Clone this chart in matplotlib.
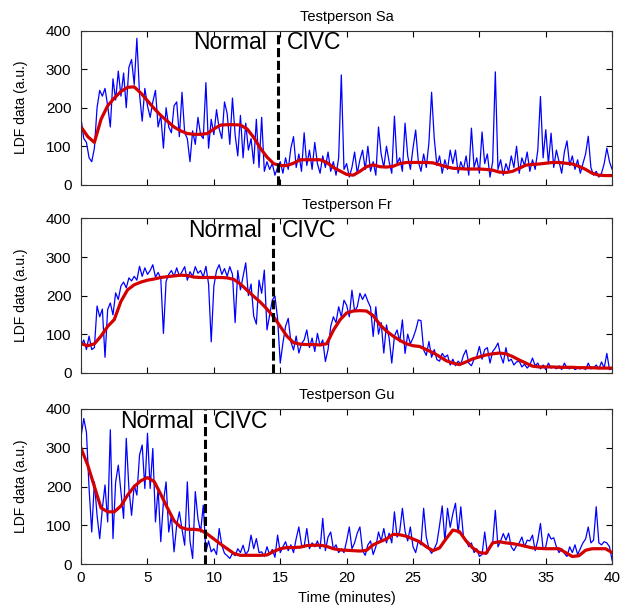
"""LDF data of three test persons, normal breathing vs. CIVC"""
import numpy as np
from matplotlib import pyplot as plt

# raw LDF signal (a.u.), one sample every 0.2 minutes from 0 to 40
sa_ldf = [
    170, 120, 110, 70, 60, 95, 200, 245, 230, 250, 205, 150, 275, 220, 295, 230, 290, 200, 305, 325,
    260, 380, 235, 165, 250, 205, 175, 215, 245, 150, 180, 95, 200, 150, 135, 205, 215, 125, 240, 135,
    120, 60, 140, 105, 175, 130, 120, 265, 95, 170, 130, 195, 145, 120, 215, 185, 105, 225, 130, 75,
    180, 70, 160, 90, 120, 55, 170, 45, 175, 35, 60, 40, 55, 25, 45, 60, 30, 70, 40, 95,
    125, 45, 80, 35, 135, 50, 90, 40, 110, 55, 30, 75, 45, 85, 35, 60, 25, 70, 285, 40,
    55, 20, 45, 85, 30, 65, 90, 40, 100, 35, 60, 25, 150, 80, 45, 100, 60, 30, 178, 55,
    70, 35, 160, 75, 40, 95, 142, 60, 35, 80, 45, 110, 240, 120, 50, 75, 30, 65, 40, 90,
    55, 90, 30, 60, 40, 75, 25, 147, 45, 70, 30, 137, 55, 80, 20, 60, 293, 40, 65, 25,
    55, 35, 75, 45, 100, 30, 70, 50, 85, 35, 65, 40, 90, 229, 70, 143, 55, 134, 45, 90,
    60, 30, 85, 114, 50, 75, 40, 65, 30, 55, 80, 126, 45, 25, 35, 20, 30, 55, 95, 60,
    40,
]
fr_ldf = [
    70, 85, 60, 95, 60, 65, 173, 145, 165, 40, 164, 181, 150, 207, 190, 225, 235, 220, 246, 238,
    250, 240, 276, 250, 272, 255, 265, 280, 248, 260, 245, 102, 237, 255, 265, 250, 272, 250, 262, 275,
    240, 262, 250, 275, 258, 265, 248, 276, 230, 80, 225, 265, 280, 255, 270, 250, 275, 255, 130, 265,
    215, 250, 285, 200, 230, 147, 126, 240, 206, 266, 111, 150, 188, 199, 140, 25, 77, 120, 141, 80,
    59, 95, 51, 75, 85, 111, 65, 90, 55, 102, 70, 85, 29, 60, 120, 145, 130, 171, 145, 188,
    175, 145, 214, 160, 171, 206, 190, 204, 185, 170, 94, 171, 100, 130, 51, 124, 90, 25, 95, 111,
    80, 137, 50, 100, 75, 90, 110, 137, 135, 59, 45, 81, 40, 60, 34, 30, 50, 40, 46, 20,
    35, 18, 30, 22, 45, 59, 25, 18, 35, 42, 68, 35, 60, 65, 25, 55, 64, 77, 45, 25,
    65, 30, 35, 20, 28, 30, 15, 22, 12, 20, 38, 18, 25, 10, 20, 8, 25, 12, 15, 10,
    18, 8, 25, 12, 10, 15, 8, 12, 10, 14, 8, 25, 10, 12, 20, 10, 28, 12, 50, 8,
    10,
]
gu_ldf = [
    330, 375, 340, 195, 83, 212, 126, 66, 144, 204, 109, 346, 66, 212, 255, 187, 118, 324, 195, 126,
    204, 178, 281, 307, 195, 337, 195, 298, 109, 195, 58, 161, 212, 83, 126, 32, 101, 135, 90, 49,
    212, 60, 15, 187, 118, 83, 152, 32, 60, 32, 40, 25, 92, 49, 28, 22, 15, 28, 22, 40,
    30, 49, 25, 35, 75, 40, 66, 30, 32, 20, 45, 25, 38, 18, 75, 30, 45, 58, 35, 50,
    30, 66, 96, 50, 45, 92, 40, 55, 45, 60, 40, 118, 35, 70, 83, 40, 50, 30, 40, 30,
    60, 96, 40, 55, 80, 96, 35, 23, 50, 60, 25, 45, 83, 60, 92, 55, 80, 55, 135, 70,
    85, 144, 85, 60, 96, 45, 30, 60, 50, 144, 70, 40, 28, 40, 55, 100, 150, 60, 144, 95,
    130, 157, 80, 148, 70, 60, 45, 55, 30, 40, 20, 25, 83, 28, 45, 55, 139, 45, 60, 79,
    62, 80, 45, 35, 48, 55, 70, 45, 62, 60, 75, 35, 62, 105, 38, 45, 79, 65, 68, 45,
    30, 40, 28, 20, 45, 30, 50, 25, 40, 55, 65, 96, 55, 62, 148, 55, 50, 58, 55, 45,
    10,
]

# smoothed signal, one value every 0.5 minutes from 0 to 40
sa_smooth = [
    150, 125, 110, 170, 205, 225, 242, 253, 254, 238,
    218, 198, 180, 165, 150, 140, 133, 131, 131, 133,
    145, 155, 156, 156, 155, 145, 123, 95, 72, 55,
    50, 50, 56, 65, 65, 65, 65, 58, 45, 36,
    27, 25, 35, 47, 52, 47, 46, 48, 55, 58,
    58, 58, 58, 57, 52, 47, 43, 42, 41, 41,
    41, 40, 38, 33, 32, 35, 43, 51, 53, 54,
    56, 58, 58, 56, 54, 48, 40, 30, 25, 24,
    24,
]
fr_smooth = [
    75, 70, 75, 95, 120, 138, 185, 215, 228, 235,
    240, 243, 247, 249, 251, 253, 252, 248, 247, 247,
    247, 247, 246, 242, 230, 214, 198, 183, 165, 145,
    120, 95, 78, 74, 73, 73, 72, 75, 110, 137,
    155, 160, 161, 160, 148, 125, 108, 95, 84, 75,
    70, 68, 60, 52, 42, 31, 25, 21, 28, 36,
    41, 46, 49, 51, 49, 42, 33, 25, 17, 15,
    15, 15, 14, 14, 14, 13, 13, 13, 12, 12,
    12,
]
gu_smooth = [
    298, 255, 200, 145, 135, 135, 150, 178, 200, 215,
    223, 213, 180, 145, 112, 95, 90, 90, 88, 78,
    65, 52, 40, 28, 23, 23, 23, 23, 24, 33,
    40, 43, 43, 44, 48, 49, 49, 46, 40, 37,
    36, 35, 34, 36, 50, 58, 65, 77, 76, 72,
    65, 58, 45, 35, 42, 66, 88, 84, 60, 42,
    30, 28, 55, 58, 55, 53, 50, 46, 42, 41,
    40, 40, 40, 30, 20, 22, 36, 40, 40, 40,
    30,
]

persons = ["Sa", "Fr", "Gu"]
switch_times = [14.85, 14.45, 9.35]  # minute where CIVC starts
raw_series = [sa_ldf, fr_ldf, gu_ldf]
smooth_series = [sa_smooth, fr_smooth, gu_smooth]

plt.rcParams["font.family"] = ["Liberation Sans", "DejaVu Sans"]

fig = plt.figure(figsize=(6.24, 6.12), dpi=100)
positions = [
    [0.130, 0.698, 0.851, 0.252],
    [0.130, 0.391, 0.851, 0.252],
    [0.130, 0.078, 0.851, 0.254],
]

for i, person in enumerate(persons):
    ax = fig.add_axes(positions[i])
    raw = raw_series[i]
    smooth = smooth_series[i]
    t_raw = np.linspace(0, 40, len(raw))
    t_smooth = np.linspace(0, 40, len(smooth))

    ax.plot(t_raw, raw, color="#0000ff", linewidth=0.9)
    ax.plot(t_smooth, smooth, color="#d40000", linewidth=2.3)
    ax.axvline(switch_times[i], color="black", linewidth=2.2, linestyle=(0, (3, 1.2)))

    ax.text(switch_times[i] - 0.85, 368, "Normal", ha="right", va="center", fontsize=16.5)
    ax.text(switch_times[i] + 0.65, 368, "CIVC", ha="left", va="center", fontsize=16.5)

    ax.set_xlim(0, 40)
    ax.set_ylim(0, 400)
    ax.set_xticks([0, 5, 10, 15, 20, 25, 30, 35, 40])
    ax.set_yticks([0, 100, 200, 300, 400])
    ax.tick_params(direction="in", top=True, right=True, length=4, labelsize=11)
    ax.tick_params(axis="y", pad=7)
    ax.tick_params(axis="x", pad=5)
    ax.set_title(f"Testperson {person}", fontsize=10.5, pad=7)
    ax.set_ylabel("LDF data (a.u.)", fontsize=10)
    ax.yaxis.set_label_coords(-0.10, 0.5)
    for spine in ax.spines.values():
        spine.set_linewidth(0.8)
        spine.set_color("#333333")
    if i < 2:
        ax.set_xticklabels([])
    else:
        ax.set_xlabel("Time (minutes)", fontsize=10.5)

fig.savefig("out.png", dpi=100)
